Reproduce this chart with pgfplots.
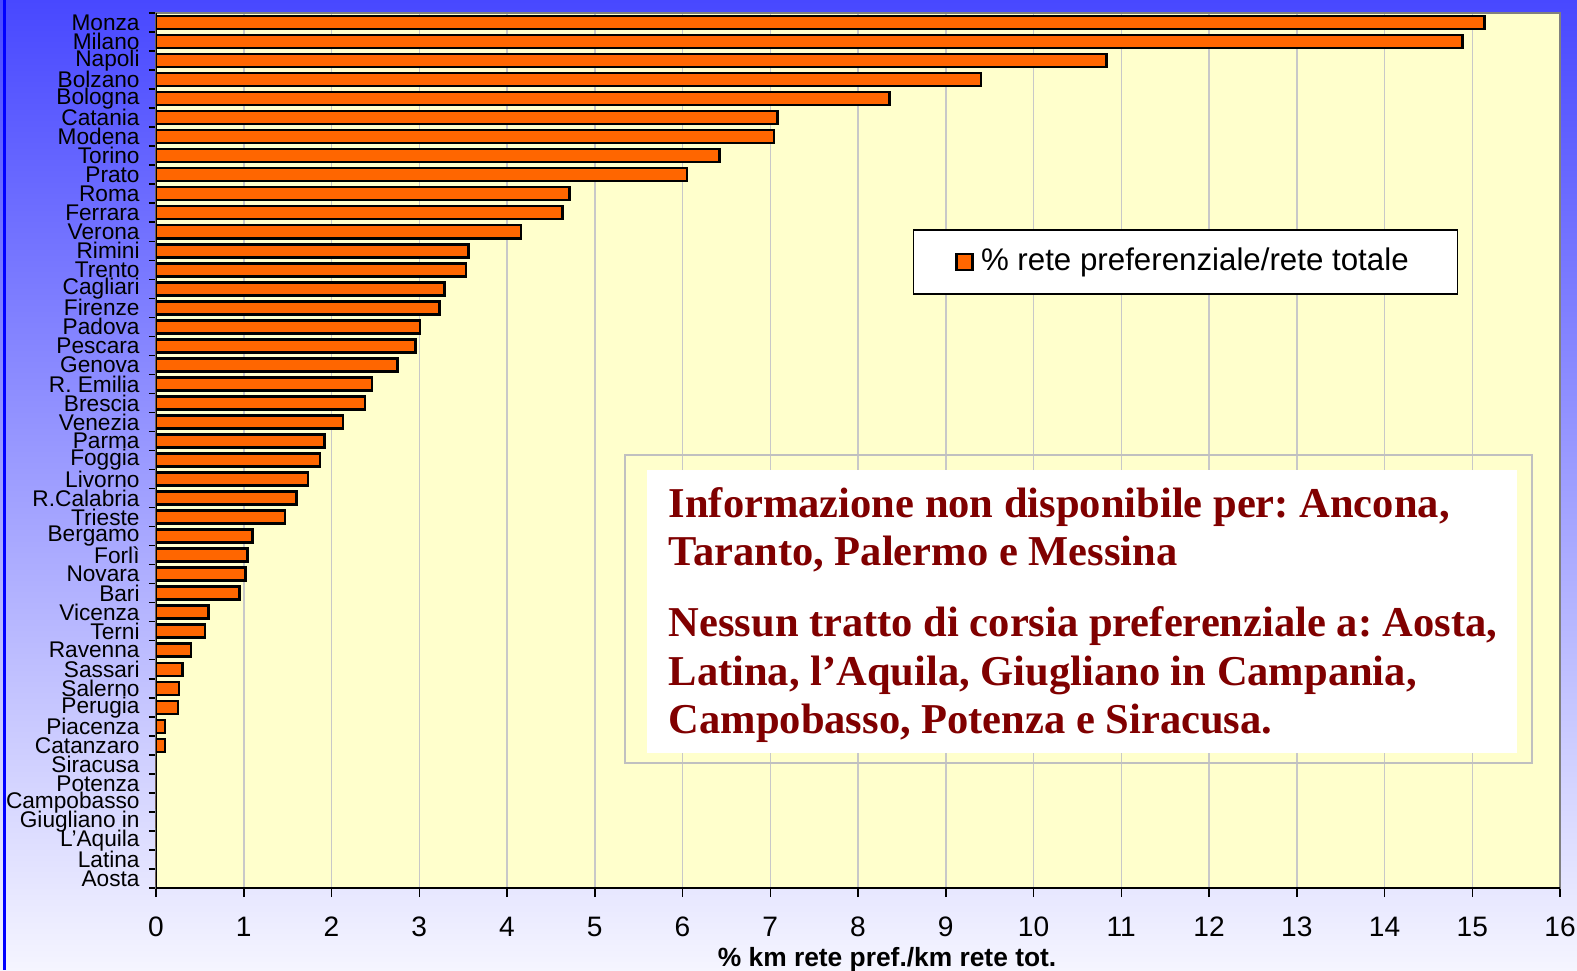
\documentclass[border=0pt]{standalone}
\usepackage{fontspec}
\setmainfont{Liberation Sans}
\newfontfamily\boxfont{Liberation Serif}
\usepackage{pgfplots}
\pgfplotsset{compat=1.18}
\usepackage{pgfplotstable}

\definecolor{bgtop}{RGB}{72,72,255}
\definecolor{bgbot}{RGB}{245,245,255}
\definecolor{plotbg}{RGB}{255,255,204}
\definecolor{barorange}{RGB}{255,102,0}
\definecolor{boxred}{RGB}{128,0,0}
\definecolor{gridgray}{RGB}{200,200,200}
\definecolor{framegray}{RGB}{128,128,128}
\definecolor{boxgray}{RGB}{192,192,192}

% idx 0 = Aosta (bottom) ... 45 = Monza (top)
\pgfplotstableread{
idx val
0  0
1  0
2  0
3  0
4  0
5  0
6  0
7  0.10
8  0.10
9  0.25
10 0.26
11 0.30
12 0.40
13 0.56
14 0.60
15 0.95
16 1.02
17 1.04
18 1.10
19 1.47
20 1.60
21 1.73
22 1.87
23 1.92
24 2.13
25 2.38
26 2.46
27 2.75
28 2.96
29 3.01
30 3.23
31 3.29
32 3.53
33 3.56
34 4.16
35 4.63
36 4.71
37 6.05
38 6.42
39 7.04
40 7.08
41 8.36
42 9.40
43 10.83
44 14.89
45 15.14
}\rete

\begin{document}
\frenchspacing
\begin{tikzpicture}
% background
\shade[top color=bgtop, bottom color=bgbot] (-15.6mm,-8.2mm) rectangle (142.1mm,88.8mm);
\fill[blue] (-15.3mm,-8.2mm) rectangle (-15.0mm,88.8mm);

\begin{axis}[
  at={(0,0)}, anchor=south west,
  scale only axis, width=140.4mm, height=87.5mm,
  xbar, bar width=1.3mm,
  xmin=0, xmax=16, ymin=-0.5, ymax=45.5,
  xtick={0,...,16},
  ytick={0,...,45},
  yticklabels={Aosta, Latina, L'Aquila, Giugliano in, Campobasso, Potenza, Siracusa,
    Catanzaro\hspace{0.6mm}, Piacenza, Perugia, Salerno, Sassari, Ravenna, Terni, Vicenza,
    Bari, Novara, Forlì, Bergamo, Trieste, R.Calabria, Livorno, Foggia, Parma,
    Venezia, Brescia, R. Emilia, Genova, Pescara, Padova, Firenze, Cagliari,
    Trento, Rimini, Verona, Ferrara, Roma, Prato, Torino, Modena, Catania,
    Bologna, Bolzano, Napoli, Milano, Monza},
  minor ytick={-0.5,0.5,...,45.5},
  tick pos=left, tick align=outside,
  major tick length=0.9mm, minor tick length=0.7mm,
  major y tick style={draw=none},
  minor y tick style={black, line width=0.15mm},
  major x tick style={black, line width=0.15mm},
  xmajorgrids, ymajorgrids=false,
  grid style={gridgray, line width=0.15mm},
  axis background/.style={fill=plotbg},
  axis line style={framegray, line width=0.25mm},
  /pgf/number format/assume math mode=true,
  xticklabel style={font=\fontsize{8}{9}\selectfont, anchor=base, yshift=-3.9mm},
  yticklabel style={font=\fontsize{6.45}{7}\selectfont, xshift=0.5mm},
  xlabel={\% km rete pref./km rete tot.},
  xlabel style={font=\bfseries\fontsize{7.5}{9}\selectfont,
    at={(rel axis cs:0.5207,0)}, anchor=base, yshift=-7.8mm},
  legend style={at={(rel axis cs:0.539,0.753)}, anchor=north west,
    draw=black, fill=white, font=\fontsize{8.9}{10}\selectfont,
    inner xsep=4.2mm, inner ysep=1.1mm, cells={anchor=west}},
  legend image code/.code={\draw[#1] (0mm,-0.8mm) rectangle (1.6mm,0.8mm);},
]
\addplot[fill=barorange, draw=black, line width=0.25mm] table[x=val, y=idx] {\rete};
\addlegendentry{\% rete preferenziale/rete totale}
\draw[black, line width=0.25mm] (rel axis cs:0,1) -- (rel axis cs:0,0) -- (rel axis cs:1,0);
\end{axis}

% note box
\draw[boxgray, line width=0.2mm] (46.9mm,12.5mm) rectangle (137.6mm,43.3mm);
\fill[white] (49.1mm,13.5mm) rectangle (136.1mm,41.8mm);
\begin{scope}[every node/.style={anchor=base west, inner sep=0pt, text=boxred,
    font=\boxfont\bfseries\fontsize{12.1}{13}\selectfont}]
\node at (51.2mm,37.0mm) {Informazione non disponibile per: Ancona,};
\node at (51.2mm,32.2mm) {Taranto, Palermo e Messina};
\node at (51.2mm,25.1mm) {Nessun tratto di corsia preferenziale a: Aosta,};
\node at (51.2mm,20.3mm) {Latina, l’Aquila, Giugliano in Campania,};
\node at (51.2mm,15.5mm) {Campobasso, Potenza e Siracusa.};
\end{scope}

\pgfresetboundingbox
\useasboundingbox (-15.6mm,-8.2mm) rectangle (142.1mm,88.8mm);
\end{tikzpicture}
\end{document}
